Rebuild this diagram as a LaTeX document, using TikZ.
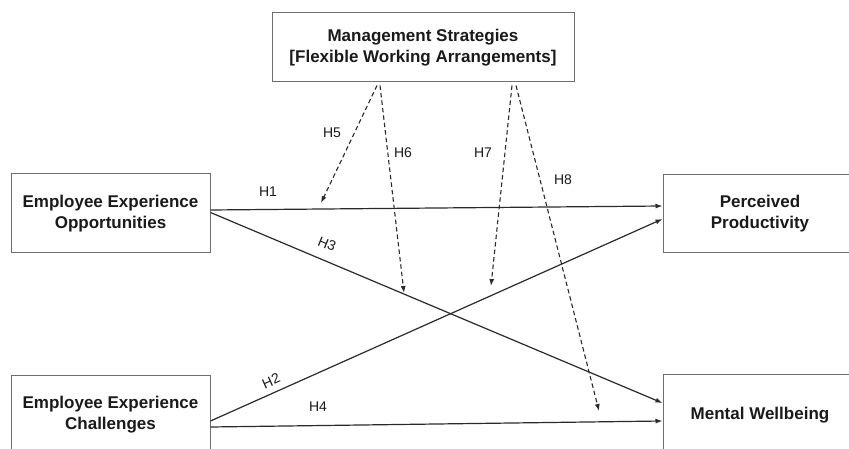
\documentclass[tikz,border=0pt]{standalone}
\usepackage{fontspec}
\setmainfont{Liberation Sans}
\usetikzlibrary{arrows.meta,calc}
\definecolor{boxline}{HTML}{6E6E6E}
\definecolor{conn}{HTML}{2A2A2A}
\definecolor{txt}{HTML}{1A1A1A}
\tikzset{
  varbox/.style={draw=boxline, line width=1pt, fill=white, align=center, inner sep=0pt,
    font=\fontsize{17}{21}\selectfont\bfseries, text=txt},
  hpath/.style={draw=conn, line width=1.2pt, -{Latex[length=7pt,width=5pt]}},
  modpath/.style={draw=conn, line width=1.1pt, dash pattern=on 4.5pt off 3pt, -{Latex[length=7pt,width=5pt]}},
  hlabel/.style={font=\fontsize{14}{16}\selectfont, text=txt, inner sep=0pt}
}
\begin{document}
\begin{tikzpicture}[x=1pt,y=-1pt]
\useasboundingbox (0,0) rectangle (849,449);
\fill[white] (0,0) rectangle (849,449);
% boxes
\node[varbox, minimum width=302pt, minimum height=69pt] (ms) at (423,47.5)
  {Management Strategies\\{}[Flexible Working Arrangements]};
\node[varbox, minimum width=199pt, minimum height=79pt] (eo) at (110.5,213.5)
  {Employee Experience\\Opportunities};
\node[varbox, minimum width=199pt, minimum height=80pt] (ec) at (110.5,415)
  {Employee Experience\\Challenges};
\node[varbox, minimum width=194pt, minimum height=78pt] (pp) at (760,214)
  {Perceived\\Productivity};
\node[varbox, minimum width=194pt, minimum height=82pt] (mw) at (760,415)
  {Mental Wellbeing};
% direct paths
\draw[hpath] ([yshift=3.5pt]eo.east) -- ([yshift=8pt]pp.west);
\draw[hpath] ([yshift=1pt]eo.east) -- ([yshift=12pt]mw.west);
\draw[hpath] ([yshift=-6pt]ec.east) -- ([yshift=-5pt]pp.west);
\draw[hpath] ([yshift=-12pt]ec.east) -- ([yshift=-6pt]mw.west);
% moderation targets
\coordinate (t5) at (321,203);
\coordinate (t6) at (404,293);
\coordinate (t7) at (491,286);
\coordinate (t8) at (599,411);
\draw[modpath] ([xshift=-46pt,yshift=-3pt]ms.south) -- (t5);
\draw[modpath] ([xshift=-43pt,yshift=-3pt]ms.south) -- (t6);
\draw[modpath] ([xshift=89pt,yshift=-3pt]ms.south) -- (t7);
\draw[modpath] ([xshift=93pt,yshift=-3pt]ms.south) -- (t8);
% labels
\node[hlabel] (l1) at (268,192) {H1};
\node[hlabel, rotate=-22] (l3) at (327,244) {H3};
\node[hlabel, rotate=24] (l2) at (271,381) {H2};
\node[hlabel] (l4) at (318,407) {H4};
\node[hlabel] (l5) at (332,133) {H5};
\node[hlabel] (l6) at (403,153) {H6};
\node[hlabel] (l7) at (483,153) {H7};
\node[hlabel] (l8) at (563,180) {H8};
\end{tikzpicture}
\end{document}
